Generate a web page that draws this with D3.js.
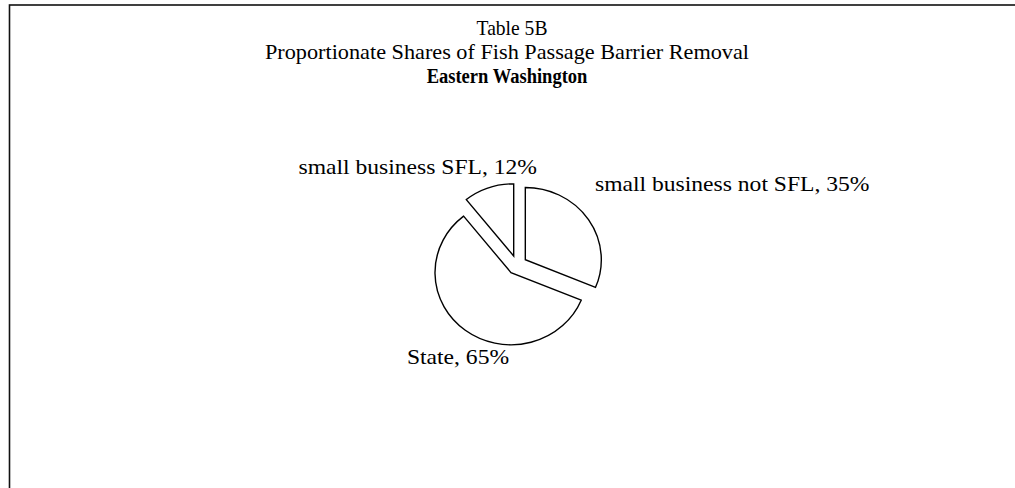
<!DOCTYPE html>
<html>
<head>
<meta charset="utf-8">
<script src="https://cdn.jsdelivr.net/npm/d3@7"></script>
<style>
  body { margin: 0; background: #fff; }
  text { font-family: "Liberation Serif", "Times New Roman", serif; fill: #000; }
</style>
</head>
<body>
<div id="chart"></div>
<script>
// chart data
const titleLines = ["Table 5B", "Proportionate Shares of Fish Passage Barrier Removal", "Eastern Washington"];
const categories = ["small business not SFL", "State", "small business SFL"];
const shares = [35, 65, 12];

var width = 1015, height = 488;
var cx = 517, cy = 265, radius = 76, explode = 10;

var svg = d3.select("#chart")
    .append("svg")
    .attr("width", width)
    .attr("height", height);

// outer frame (runs off the right and bottom edges)
svg.append("rect")
    .attr("x", 9.5)
    .attr("y", 5)
    .attr("width", 1100)
    .attr("height", 600)
    .attr("fill", "none")
    .attr("stroke", "#111")
    .attr("stroke-width", 1.6);

// title
var titleY = [35, 59, 83];
var titleX = [512, 507, 507];
var titleScale = [0.95, 1.08, 0.9];
titleLines.forEach(function(t, i) {
    svg.append("text")
        .attr("transform", "translate(" + titleX[i] + "," + titleY[i] + ") scale(" + titleScale[i] + ",1)")
        .attr("text-anchor", "middle")
        .style("font-size", "20.6px")
        .style("font-weight", i === 2 ? "bold" : "normal")
        .text(t);
});

var pie = d3.pie().sort(null).value(d => d.value);
var arc = d3.arc().innerRadius(0).outerRadius(radius);
var arcs = pie(categories.map((c, i) => ({name: c, value: shares[i]})));

// the original pie is a little flattened
var g = svg.append("g").attr("transform", "translate(" + cx + "," + cy + ") scale(1,0.95)");

g.selectAll("path")
    .data(arcs)
    .enter().append("path")
    .attr("d", arc)
    .attr("transform", function(d) {
        var a = (d.startAngle + d.endAngle) / 2;
        return "translate(" + (Math.sin(a) * explode) + "," + (-Math.cos(a) * explode) + ")";
    })
    .attr("fill", "#fff")
    .attr("stroke", "#000")
    .attr("stroke-width", 1.4)
    .attr("stroke-linejoin", "miter");

// labels: anchor point relative to the pie centre
var labelPos = {
    "small business not SFL": {dx: 78, dy: -74, anchor: "start"},
    "State": {dx: -59, dy: 99, anchor: "middle"},
    "small business SFL": {dx: 20, dy: -91, anchor: "end"}
};

var lg = svg.append("g").attr("transform", "translate(" + cx + "," + cy + ")");
lg.selectAll("text.lbl")
    .data(arcs)
    .enter().append("text")
    .attr("class", "lbl")
    .attr("transform", d => "translate(" + labelPos[d.data.name].dx + "," + labelPos[d.data.name].dy + ") scale(1.18,1)")
    .attr("text-anchor", d => labelPos[d.data.name].anchor)
    .style("font-size", "20px")
    .text(d => d.data.name + ", " + d.data.value + "%");
</script>
</body>
</html>
